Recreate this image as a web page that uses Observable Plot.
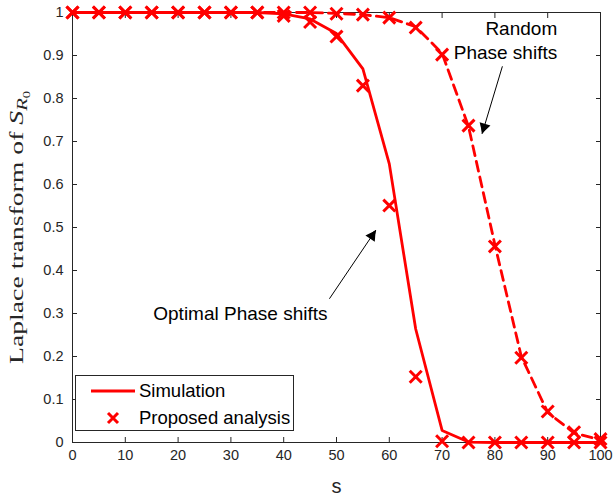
<!DOCTYPE html>
<html><head><meta charset="utf-8">
<script src="https://cdn.jsdelivr.net/npm/d3@7"></script>
<script src="https://cdn.jsdelivr.net/npm/@observablehq/plot@0.6"></script>
<style>body{margin:0;background:#fff}</style>
</head><body><div id="chart"></div>
<script>
const s = [0,5,10,15,20,25,30,35,40,45,50,55,60,65,70,75,80,85,90,95,100];
const optimalSim      = [1,1,1,1,1,1,1,1,0.997,0.985,0.951,0.869,0.648,0.264,0.028,0.001,0,0,0,0,0];
const optimalAnalysis = [1,1,1,1,1,1,1,1,0.992,0.978,0.944,0.830,0.551,0.153,0.003,0,0,0,0,0,0];
const randomSim       = [1,1,1,1,1,1,1,1,1,1,0.998,0.995,0.988,0.967,0.905,0.735,0.460,0.200,0.070,0.022,0.006];
const randomAnalysis  = [1,1,1,1,1,1,1,1,1,1,0.997,0.995,0.988,0.965,0.902,0.737,0.456,0.197,0.072,0.024,0.008];
const xTicks = [0,10,20,30,40,50,60,70,80,90,100];
const yTicks = [0,0.1,0.2,0.3,0.4,0.5,0.6,0.7,0.8,0.9,1];
const yTickLabels = ["0","0.1","0.2","0.3","0.4","0.5","0.6","0.7","0.8","0.9","1"];
const annotations = [
  {text:"Random", x:85, y:0.963},
  {text:"Phase shifts", x:82, y:0.906},
  {text:"Optimal Phase shifts", x:31.8, y:0.30}
];
const arrows = [
  {x1:81.4, y1:0.874, x2:77.6, y2:0.719},
  {x1:48.7, y1:0.335, x2:57.4, y2:0.493}
];
const legendLabels = ["Simulation","Proposed analysis"];

const W = 613, H = 502, ML = 72, MR = 13, MT = 12, MB = 60;
const pxX = (W - ML - MR) / 100, pxY = (H - MT - MB) / 1;
// filled arrow heads: triangle set just behind each arrow tip, pointing along the arrow
const heads = arrows.map(a => {
  const dx = (a.x2 - a.x1) * pxX, dy = -(a.y2 - a.y1) * pxY;
  const n = Math.hypot(dx, dy), ux = dx / n, uy = dy / n;
  const back = 6.5;
  return {
    x: a.x2 - ux * back / pxX,
    y: a.y2 + uy * back / pxY,
    rotate: Math.atan2(ux, -uy) * 180 / Math.PI
  };
});

const toRows = (arr) => s.map((v,i)=>({s:v, v:arr[i]}));
const SANS = "'Liberation Sans', Arial, Helvetica, sans-serif";
const INK = "#262626";
const noLabel = () => "";

const chart = Plot.plot({
  width: W, height: H,
  marginLeft: ML, marginRight: MR, marginTop: MT, marginBottom: MB,
  x: {domain:[0,100]},
  y: {domain:[0,1]},
  style: {fontFamily: SANS, fontSize: "14.5px", color: INK, background: "white"},
  marks: [
    Plot.frame({stroke: INK, strokeWidth: 1}),
    Plot.axisX(xTicks, {anchor:"bottom", tickSize:0, tickPadding:7, tickFormat:d=>String(d), label:null, fontSize:14.5}),
    Plot.axisX(xTicks, {anchor:"bottom", tickSize:-5, tickFormat:noLabel, label:null}),
    Plot.axisX(xTicks, {anchor:"top", tickSize:-5, tickFormat:noLabel, label:null}),
    Plot.axisY(yTicks, {anchor:"left", tickSize:0, tickPadding:9, tickFormat:d=>yTickLabels[yTicks.indexOf(d)], label:null, fontSize:14.5}),
    Plot.axisY(yTicks, {anchor:"left", tickSize:-5, tickFormat:noLabel, label:null}),
    Plot.axisY(yTicks, {anchor:"right", tickSize:-5, tickFormat:noLabel, label:null}),
    Plot.line(toRows(optimalSim), {x:"s", y:"v", stroke:"#ff0000", strokeWidth:2.8}),
    Plot.line(toRows(randomSim), {x:"s", y:"v", stroke:"#ff0000", strokeWidth:2.8, strokeDasharray:"10,6"}),
    Plot.dot(toRows(optimalAnalysis), {x:"s", y:"v", symbol:"times", r:5.5, stroke:"#ff0000", strokeWidth:3}),
    Plot.dot(toRows(randomAnalysis), {x:"s", y:"v", symbol:"times", r:5.5, stroke:"#ff0000", strokeWidth:3}),
    Plot.text(annotations, {x:"x", y:"y", text:"text", fontSize:19, fill:"black", fontFamily:SANS}),
    Plot.arrow(arrows, {x1:"x1", y1:"y1", x2:"x2", y2:"y2", stroke:"black", strokeWidth:1, headLength:12, headAngle:40}),
    Plot.dot(heads, {x:"x", y:"y", rotate:"rotate", symbol:"triangle", r:4.2, fill:"black", stroke:null}),
    Plot.text(["s"], {frameAnchor:"bottom", dy:50, fontSize:20, fill:INK, fontFamily:SANS}),
    Plot.text(["Laplace transform of S"], {frameAnchor:"left", textAnchor:"middle", rotate:-90, dx:-56, fontSize:19, fill:INK, fontFamily:"'Liberation Serif', 'DejaVu Serif', serif", className:"ylab"})
  ]
});

document.getElementById("chart").appendChild(chart);

// y label with math subscript
const svg = d3.select(chart);
const yl = svg.select("g.ylab text");
yl.text(null);
yl.append("tspan").text("Laplace transform of ");
yl.append("tspan").attr("font-style","italic").text("S");
yl.append("tspan").attr("font-style","italic").attr("font-size","14").attr("dy","4").text("R");
yl.append("tspan").attr("font-size","10").attr("dy","3").text("0");
yl.attr("text-anchor","middle").attr("textLength", 273).attr("lengthAdjust", "spacingAndGlyphs");

// legend
const lg = svg.append("g").attr("font-family", SANS).attr("font-size", 18.5).attr("text-anchor","start");
lg.append("rect").attr("x",75.5).attr("y",375.5).attr("width",218).attr("height",55).attr("fill","white").attr("stroke",INK);
lg.append("line").attr("x1",91).attr("x2",135).attr("y1",391).attr("y2",391).attr("stroke","#ff0000").attr("stroke-width",2.8);
lg.append("path").attr("d","M108,413L118,423M108,423L118,413").attr("stroke","#ff0000").attr("stroke-width",3);
lg.append("text").attr("x",139).attr("y",391).attr("dy","0.35em").attr("fill","black").text(legendLabels[0]);
lg.append("text").attr("x",139).attr("y",418).attr("dy","0.35em").attr("fill","black").text(legendLabels[1]);
</script>
</body></html>
